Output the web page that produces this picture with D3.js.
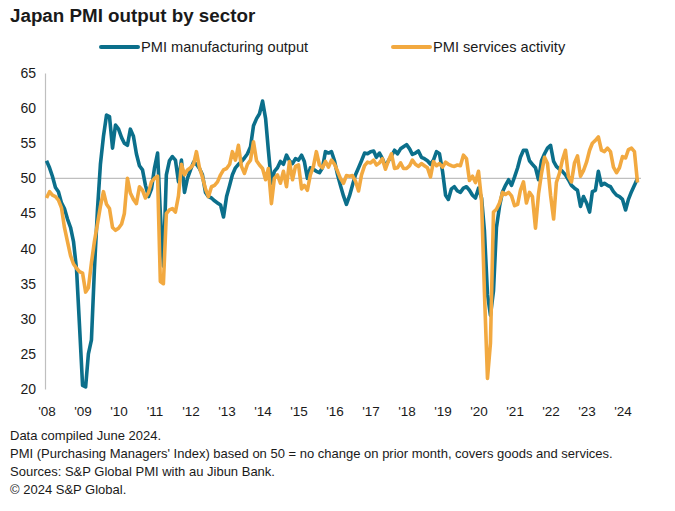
<!DOCTYPE html>
<html>
<head>
<meta charset="utf-8">
<script src="https://cdn.jsdelivr.net/npm/d3@7"></script>
<style>
  html, body { margin: 0; padding: 0; background: #fff; }
  svg { display: block; font-family: "Liberation Sans", Arial, sans-serif; }
</style>
</head>
<body>
<svg id="chart" width="675" height="511"></svg>
<script>
// ---- Data (monthly, Jan 2008 – Jun 2024) ----
const startYear = 2008;
const seriesNames = ["PMI manufacturing output", "PMI services activity"];
const manufacturing = [
  52.5, 51.5, 50.3, 48.7, 48.1, 46.5, 45.7, 44.2, 43.0, 41.0, 37.0, 29.0, // 2008
  20.5, 20.3, 25.0, 27.0, 37.0, 45.5, 52.0, 56.0, 59.0, 58.8, 54.3, 57.6, // 2009
  57.0, 55.8, 55.0, 54.7, 57.0, 56.0, 53.5, 51.8, 51.2, 49.0, 47.4, 48.5, // 2010
  51.5, 53.6, 45.0, 37.5, 50.5, 52.5, 53.1, 52.6, 49.5, 52.6, 48.0, 50.0, // 2011
  51.2, 52.3, 52.0, 51.4, 50.5, 48.0, 47.4, 47.2, 46.8, 46.5, 46.2, 44.5, // 2012
  47.4, 49.0, 50.5, 51.5, 52.0, 52.4, 52.9, 53.5, 54.5, 57.5, 58.5, 59.2, // 2013
  61.0, 58.5, 54.0, 49.3, 51.0, 51.5, 52.4, 52.0, 53.3, 52.5, 52.1, 52.8, // 2014
  52.6, 53.3, 52.4, 50.0, 51.5, 51.3, 51.0, 50.8, 51.5, 53.8, 53.6, 53.8, // 2015
  52.5, 50.5, 49.0, 47.5, 46.3, 47.5, 49.0, 50.5, 51.5, 52.5, 53.6, 53.5, // 2016
  53.8, 53.9, 53.0, 53.6, 52.8, 51.7, 52.5, 53.2, 54.0, 53.5, 54.2, 54.5, // 2017
  54.8, 54.2, 53.4, 53.6, 53.9, 53.0, 52.8, 52.5, 52.0, 52.6, 53.8, 53.5, // 2018
  51.0, 47.6, 47.0, 48.5, 48.8, 48.2, 48.0, 48.6, 48.8, 48.3, 47.6, 47.2, // 2019
  48.6, 47.2, 42.5, 33.5, 30.5, 34.0, 43.0, 46.0, 48.1, 49.0, 49.8, 49.0, // 2020
  50.2, 51.5, 53.0, 54.0, 54.0, 52.5, 52.0, 51.5, 49.8, 52.5, 53.5, 54.3, // 2021
  54.7, 52.4, 51.7, 51.3, 51.0, 50.5, 49.8, 49.0, 48.6, 48.3, 46.0, 47.4, // 2022
  46.5, 45.2, 48.1, 48.3, 51.0, 49.0, 49.3, 49.0, 48.8, 48.1, 47.6, 47.4, // 2023
  47.0, 45.5, 47.0, 48.1, 49.0, 50.0                                      // 2024
];
const services = [
  47.2, 48.1, 47.6, 47.4, 46.9, 45.8, 43.0, 41.0, 39.0, 37.8, 37.2, 36.7, // 2008
  36.5, 33.8, 34.4, 38.0, 41.0, 43.5, 46.0, 48.1, 46.3, 45.7, 43.0, 42.6, // 2009
  42.9, 43.5, 45.0, 50.0, 47.9, 47.0, 46.4, 48.8, 48.3, 47.2, 48.0, 49.5, // 2010
  50.0, 50.3, 35.3, 35.0, 45.0, 45.5, 45.7, 45.2, 47.5, 52.0, 50.5, 51.2, // 2011
  51.5, 52.0, 53.8, 51.5, 50.2, 48.5, 47.4, 48.8, 49.0, 49.5, 50.5, 51.2, // 2012
  51.4, 52.0, 53.8, 52.6, 54.7, 51.7, 50.7, 52.0, 52.6, 55.2, 52.5, 51.9, // 2013
  51.4, 49.8, 51.4, 46.4, 50.0, 50.5, 49.3, 51.0, 48.8, 52.4, 49.8, 51.7, // 2014
  51.9, 48.5, 49.0, 48.3, 50.5, 51.7, 53.8, 51.9, 51.5, 52.4, 51.6, 52.6, // 2015
  52.0, 51.0, 50.0, 49.3, 50.4, 50.3, 50.4, 49.6, 48.2, 50.5, 51.8, 52.3, // 2016
  52.2, 52.6, 51.9, 52.2, 52.8, 51.3, 52.5, 53.5, 51.4, 51.5, 52.2, 51.4, // 2017
  51.4, 51.8, 52.6, 52.0, 51.7, 52.1, 51.8, 51.5, 50.2, 52.4, 51.8, 52.1, // 2018
  51.6, 52.3, 52.0, 51.8, 51.7, 51.9, 51.8, 53.3, 52.8, 49.7, 50.3, 49.4, // 2019
  51.0, 46.8, 33.8, 21.5, 26.5, 45.2, 45.6, 46.5, 48.0, 47.7, 48.0, 47.5, // 2020
  46.1, 46.3, 48.3, 49.5, 46.5, 48.0, 47.4, 42.9, 47.8, 50.7, 53.0, 52.1, // 2021
  47.6, 44.2, 49.4, 50.7, 52.6, 54.0, 50.3, 49.5, 52.2, 53.2, 50.3, 51.1, // 2022
  52.3, 54.0, 55.0, 55.4, 55.9, 54.0, 53.8, 54.3, 53.8, 51.6, 50.8, 51.5, // 2023
  53.1, 52.9, 54.1, 54.3, 53.8, 49.4                                      // 2024
];
const yTicks = [20, 25, 30, 35, 40, 45, 50, 55, 60, 65];
const xTickYears = d3.range(2008, 2025);
const footnotes = [
  "Data compiled June 2024.",
  "PMI (Purchasing Managers' Index) based on 50 = no change on prior month, covers goods and services.",
  "Sources: S&P Global PMI with au Jibun Bank.",
  "\u00A9 2024 S&P Global."
];

// ---- Setup ----
const colors = ["#0b6f8b", "#f2a940"];
const svg = d3.select("#chart");
const dates = manufacturing.map((_, i) => new Date(startYear, i, 1));

const x = d3.scaleTime()
  .domain([dates[0], dates[dates.length - 1]])
  .range([46.5, 637.5]);
const y = d3.scaleLinear().domain([20, 65]).range([389, 73]);

// Title
svg.append("text")
  .attr("x", 10).attr("y", 22)
  .attr("font-size", 18.8).attr("font-weight", "bold")
  .attr("fill", "#1a1a1a")
  .text("Japan PMI output by sector");

// Legend
const legendPos = [{lx: 101, tx: 141}, {lx: 393, tx: 433}];
seriesNames.forEach((name, i) => {
  const p = legendPos[i];
  svg.append("line")
    .attr("x1", p.lx).attr("x2", p.lx + 37)
    .attr("y1", 47).attr("y2", 47)
    .attr("stroke", colors[i]).attr("stroke-width", 4)
    .attr("stroke-linecap", "round");
  svg.append("text")
    .attr("x", p.tx).attr("y", 52)
    .attr("font-size", 14.6).attr("fill", "#1a1a1a")
    .text(name);
});

// Y axis
const yAxis = d3.axisLeft(y).tickValues(yTicks).tickSize(0).tickPadding(9);
const gy = svg.append("g").attr("transform", "translate(45,0)").call(yAxis);
gy.select(".domain").attr("stroke", "#bfbfbf").attr("stroke-width", 1.2);
gy.selectAll("text").attr("font-size", 14).attr("fill", "#1a1a1a")
  .attr("font-family", "Liberation Sans, Arial, sans-serif");

// 50 reference line
svg.append("line")
  .attr("x1", 45).attr("x2", 641)
  .attr("y1", y(50)).attr("y2", y(50))
  .attr("stroke", "#bfbfbf").attr("stroke-width", 1.2);

// X axis labels
const xAxis = d3.axisBottom(x)
  .tickValues(xTickYears.map(yr => new Date(yr, 0, 1)))
  .tickFormat(d => "'" + String(d.getFullYear()).slice(2))
  .tickSize(0).tickPadding(10);
const gx = svg.append("g").attr("transform", "translate(0,396)").call(xAxis);
gx.select(".domain").remove();
gx.selectAll("text").attr("font-size", 13.5).attr("fill", "#1a1a1a")
  .attr("font-family", "Liberation Sans, Arial, sans-serif");

// Lines
const line = d3.line().x((d, i) => x(dates[i])).y(d => y(d));
[manufacturing, services].forEach((vals, i) => {
  svg.append("path")
    .datum(vals)
    .attr("fill", "none")
    .attr("stroke", colors[i])
    .attr("stroke-width", 3.6)
    .attr("stroke-linejoin", "round")
    .attr("d", line);
});

// Footnotes
footnotes.forEach((t, i) => {
  svg.append("text")
    .attr("x", 10).attr("y", 440 + i * 18)
    .attr("font-size", 13).attr("fill", "#1a1a1a")
    .text(t);
});
</script>
</body>
</html>
